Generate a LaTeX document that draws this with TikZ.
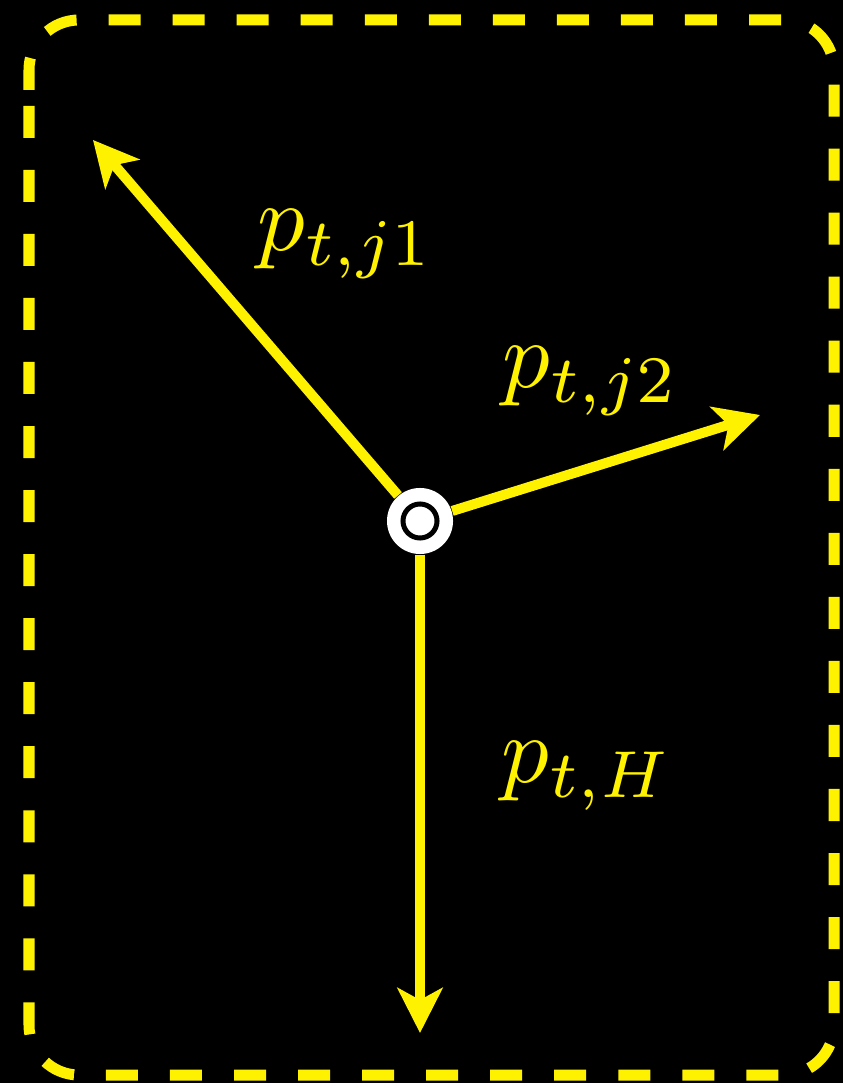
\documentclass[tikz,border=0pt]{standalone}
\usetikzlibrary{arrows.meta, positioning}

\begin{document}
\begin{tikzpicture}[
    x=0.01cm, y=-0.01cm,
    arrow/.style={yellow, line width=0.1cm, -{Stealth[length=4.5mm, width=4.5mm, inset=1.2mm]}},
    borderline/.style={yellow, line width=0.11cm, dash pattern=on 0.32cm off 0.32cm, rounded corners=0.5cm},
    plabel/.style={text=yellow, scale=2.7},
    hub/.style={circle, fill=white, minimum size=0.66cm, inner sep=0pt},
    ring/.style={circle, draw=black, fill=white, line width=0.05cm, minimum size=0.34cm, inner sep=0pt}
]
    \fill[black] (0,0) rectangle (843,1083);
    \useasboundingbox (0,0) rectangle (843,1083);

    % dashed frame
    \draw[borderline] (29,140) -- (29,20) -- (834,20) -- (834,1075) -- (29,1075) -- cycle;

    \node[hub] (hub) at (420,521) {};
    \node[ring] (ring) at (hub) {};

    \coordinate (tipA) at (93,140);
    \coordinate (tipB) at (760,415);
    \coordinate (tipH) at (420,1033);

    \draw[arrow] (hub) -- (tipA);
    \draw[arrow] (hub) -- (tipB);
    \draw[arrow] (hub) -- (tipH);

    \node[plabel] (pj1) at (346,244) {$p_{t,j1}$};
    \node[plabel] (pj2) at (591,381) {$p_{t,j2}$};
    \node[plabel] (pH) at (587,776) {$p_{t,H}$};

\end{tikzpicture}
\end{document}
